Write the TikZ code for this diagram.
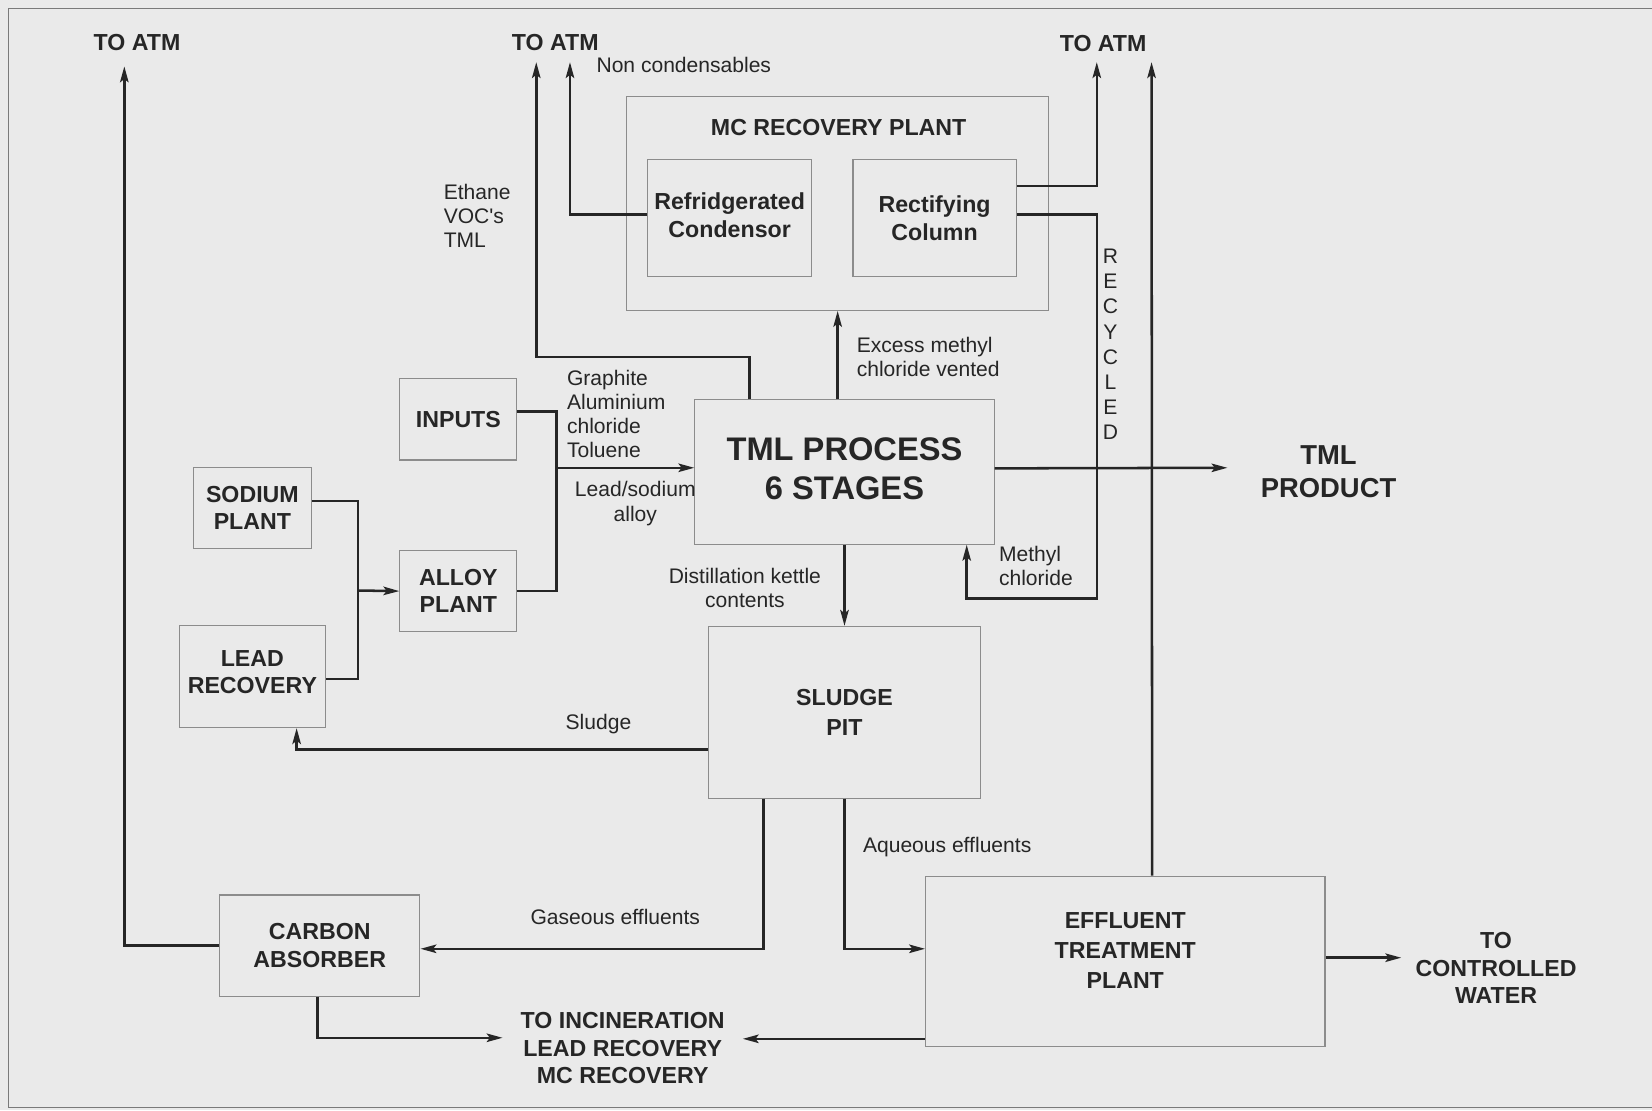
\documentclass[tikz,border=0pt]{standalone}
\usepackage{fontspec}
\setmainfont{Liberation Sans}[Ligatures=TeXOff]
\usetikzlibrary{arrows.meta}
\definecolor{bg}{HTML}{EAEAEA}
\definecolor{boxgray}{HTML}{8C8C8C}
\definecolor{ink}{HTML}{262626}
\definecolor{framegray}{HTML}{7A7A7A}
\tikzset{
  box/.style={draw=boxgray, line width=1.1pt, inner sep=0pt, anchor=north west, align=center,
    text=ink, font=\bfseries\fontsize{22}{26}\selectfont},
  conn/.style={draw=ink, line width=2.4pt},
  arr/.style={conn, -{Stealth[length=15pt,width=8pt,inset=3pt]}},
  btext/.style={text=ink, inner sep=0pt, align=center, font=\bfseries\fontsize{22}{26}\selectfont},
  rtext/.style={text=ink, inner sep=0pt, align=left, font=\fontsize{20}{23}\selectfont},
}
\begin{document}
\begin{tikzpicture}[x=1pt,y=-1pt]
\fill[bg] (0,0) rectangle (1568,1054);
\useasboundingbox (0,0) rectangle (1568,1054);
% frame
\draw[framegray, line width=1.2pt] (1568,8) -- (8,8) -- (8,1051) -- (1568,1051);

% boxes
\node[box, minimum width=401pt, minimum height=203pt] (mc) at (594,91) {};
\node[btext, anchor=center] (mctitle) at (796,121) {MC RECOVERY PLANT};
\node[box, minimum width=156pt, minimum height=111pt] (refr) at (614,151) {Refridgerated\\Condensor\\[-20pt]};
\node[box, minimum width=155pt, minimum height=111pt] (rect) at (809,151) {Rectifying\\Column};
\node[box, minimum width=111pt, minimum height=77pt] (inputs) at (379,359) {INPUTS};
\node[box, minimum width=112pt, minimum height=77pt] (sodium) at (183,443) {SODIUM\\PLANT};
\node[box, minimum width=111pt, minimum height=77pt] (alloy) at (379,522) {ALLOY\\PLANT};
\node[box, minimum width=138pt, minimum height=97pt] (lead) at (170,593) {LEAD\\RECOVERY\\[-18pt]};
\node[box, minimum width=284pt, minimum height=137pt, font=\bfseries\fontsize{31}{37}\selectfont] (tml) at (659,379) {TML PROCESS\\6 STAGES\\[-31pt]};
\node[box, minimum width=258pt, minimum height=163pt, font=\bfseries\fontsize{22}{28.5}\selectfont] (sludge) at (672,594) {SLUDGE\\PIT};
\node[box, minimum width=190pt, minimum height=96pt] (carbon) at (208,849) {CARBON\\ABSORBER};
\node[box, minimum width=379pt, minimum height=162pt, font=\bfseries\fontsize{22}{28.5}\selectfont] (eff) at (878,831) {EFFLUENT\\TREATMENT\\PLANT\\[-8.5pt]};

% free labels
\node[btext] (atmA) at (130,40) {TO ATM};
\node[btext] (atmB) at (527,40) {TO ATM};
\node[btext] (atmC) at (1047,41) {TO ATM};
\node[btext, font=\bfseries\fontsize{26}{31}\selectfont] (prod) at (1261,448) {TML\\PRODUCT};
\node[btext] (incin) at (591,995) {TO INCINERATION\\LEAD RECOVERY\\MC RECOVERY};
\node[btext] (water) at (1420,919) {TO\\CONTROLLED\\WATER};

\node[rtext, anchor=west] (noncond) at (566,62) {Non condensables};
\node[rtext, anchor=west] (ethane) at (421,205) {Ethane\\VOC's\\TML};
\node[rtext, anchor=west] (excess) at (813,339) {Excess methyl\\chloride vented};
\node[rtext, anchor=west] (graph) at (538,393) {Graphite\\Aluminium\\chloride\\Toluene};
\node[rtext, align=center] (leadsod) at (603,478) {Lead/sodium\\alloy};
\node[rtext, align=center] (distil) at (707,558) {Distillation kettle\\contents};
\node[rtext, anchor=west] (methyl) at (948,537) {Methyl\\chloride};
\node[rtext, align=center, font=\fontsize{20}{23.9}\selectfont] (recyc) at (1054,327) {R\\E\\C\\Y\\C\\L\\E\\D};
\node[rtext] (sludgel) at (568,687) {Sludge};
\node[rtext] (gas) at (584,870) {Gaseous effluents};
\node[rtext] (aq) at (899,804) {Aqueous effluents};

% free ends
\coordinate (tA) at (118,63);
\coordinate (tB1) at (509,59);
\coordinate (tB2) at (541,59);
\coordinate (tC1) at (1041,59);
\coordinate (tC2) at (1093,59);
\coordinate (tProd) at (1165,444);
\coordinate (tIncL) at (477,985);
\coordinate (tIncR) at (705,986);
\coordinate (tWater) at (1330,909);
\coordinate (j1) at (528,444);
\coordinate (j2) at (340,560.5);

% connectors
\draw[arr] (carbon.west) -| (tA);
\draw[arr] ([xshift=-90pt]tml.north) -- ++(0,-40) -| (tB1);
\draw[arr] ([yshift=3.5pt]refr.west) -| (tB2);
\draw[arr] ([yshift=30.5pt]rect.east) -| (tC1);
\draw[arr] ([yshift=3.5pt]rect.east) -| (1041,568) -| ([xshift=116pt]tml.south);
\draw[arr] ([xshift=25.5pt]eff.north) -- (tC2);
\draw[arr] ([yshift=3.5pt]tml.east) -- (tProd);
\draw[arr] (tml.north -| mc.south) -- (mc.south);
\draw[conn] ([yshift=7.5pt]inputs.east) -| (j1) |- (alloy.east);
\draw[arr] (j1) -- (tml.west |- j1);
\draw[conn] ([yshift=6.5pt]sodium.east) -| (j2) |- ([yshift=-2.5pt]lead.east);
\draw[arr] (j2) -- (alloy.west);
\draw[arr] (tml.south) -- (sludge.north);
\draw[arr] ([yshift=-35.5pt]sludge.west) -| ([xshift=42pt]lead.south);
\draw[arr] ([xshift=-77pt]sludge.south) |- ([yshift=-3pt]carbon.east);
\draw[arr] (sludge.south) |- ([yshift=12pt]eff.west);
\draw[arr] ([xshift=-2pt]carbon.south) |- (tIncL);
\draw[arr] (eff.west |- tIncR) -- (tIncR);
\draw[arr] (eff.east |- tWater) -- (tWater);
\end{tikzpicture}
\end{document}
